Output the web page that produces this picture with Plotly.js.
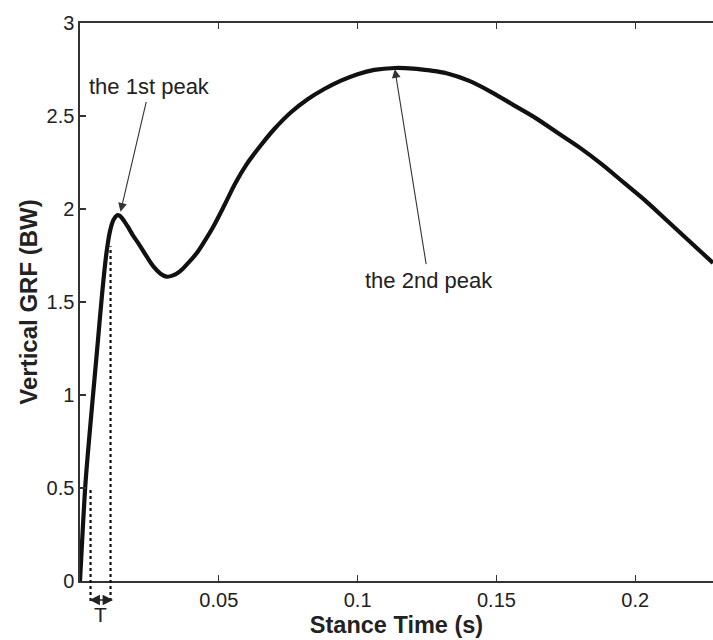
<!DOCTYPE html>
<html>
<head>
<meta charset="utf-8">
<script src="https://cdn.plot.ly/plotly-3.0.1.min.js"></script>
<style>html,body{margin:0;padding:0;background:#fff;}#chart{width:713px;height:640px;}</style>
</head>
<body>
<div id="chart"></div>
<script>
// Stance time (s) and vertical GRF (BW)
const stanceTime = [0, 0.0010, 0.0020, 0.0035, 0.0050, 0.0065, 0.0080, 0.0095, 0.0108, 0.0120, 0.0132, 0.0141, 0.0152, 0.0170, 0.0190, 0.0215, 0.0240, 0.0265, 0.0290, 0.0312, 0.0335, 0.0360, 0.0390, 0.0420, 0.0450, 0.0480, 0.0520, 0.0560, 0.0600, 0.0650, 0.0700, 0.0760, 0.0820, 0.0880, 0.0940, 0.1000, 0.1060, 0.1134, 0.1200, 0.1260, 0.1320, 0.1400, 0.1480, 0.1560, 0.1640, 0.1720, 0.1800, 0.1880, 0.1960, 0.2040, 0.2120, 0.2200, 0.2280];
const verticalGRF = [0, 0.28, 0.53, 0.80, 1.05, 1.30, 1.55, 1.76, 1.88, 1.94, 1.965, 1.965, 1.95, 1.91, 1.86, 1.805, 1.745, 1.69, 1.652, 1.636, 1.643, 1.665, 1.71, 1.762, 1.83, 1.905, 2.02, 2.14, 2.24, 2.34, 2.43, 2.52, 2.59, 2.645, 2.69, 2.725, 2.748, 2.758, 2.755, 2.745, 2.73, 2.69, 2.63, 2.56, 2.49, 2.41, 2.33, 2.24, 2.14, 2.04, 1.93, 1.82, 1.71];

// Dotted markers bounding interval T
const tMarkX = [0.0038, 0.0110];
const tMarkTop = [0.49, 1.80];

// Annotated peaks: tip position and text position
const peakLabels = ["the 1st peak", "the 2nd peak"];
const peakTipX = [0.0146, 0.1134];
const peakTipY = [1.985, 2.752];
const peakTextX = [0.0252, 0.1256];
const peakTextY = [2.661, 1.618];

const xTickVals = [0.05, 0.1, 0.15, 0.2];
const xTickText = ["0.05", "0.1", "0.15", "0.2"];
const yTickVals = [0, 0.5, 1, 1.5, 2, 2.5, 3];
const yTickText = ["0", "0.5", "1", "1.5", "2", "2.5", "3"];

const xRange = [0, 0.228];
const yRange = [0, 3];

const FONT = "Liberation Sans, Arial, Helvetica, sans-serif";

const shapes = tMarkX.map((x, i) => ({
  type: "line", xref: "x", yref: "paper",
  x0: x, x1: x, y0: -0.036, y1: tMarkTop[i] / yRange[1],
  line: {color: "#111", width: 2.2, dash: "dot"}
}));

const annotations = peakLabels.map((txt, i) => ({
  text: txt, x: peakTipX[i], y: peakTipY[i], xref: "x", yref: "y",
  ax: peakTextX[i], ay: peakTextY[i], axref: "x", ayref: "y",
  showarrow: true, arrowhead: 2, arrowsize: 1.6, arrowwidth: 1.1, arrowcolor: "#333",
  standoff: 0, startstandoff: 2,
  font: {family: FONT, size: 22, color: "#222"}
}));
annotations.push({
  text: "", xref: "x", yref: "paper", x: tMarkX[1] + 0.0009, y: -0.034,
  ax: tMarkX[0] - 0.0009, ay: -0.034, axref: "x", ayref: "paper",
  showarrow: true, arrowhead: 2, arrowside: "end+start", arrowsize: 1.3, arrowwidth: 1.6, arrowcolor: "#222"
});
annotations.push({
  text: "T", xref: "x", yref: "paper", x: (tMarkX[0] + tMarkX[1]) / 2, y: -0.084,
  showarrow: false, font: {family: FONT, size: 21, color: "#222"}
});

const trace = {
  x: stanceTime, y: verticalGRF, type: "scatter", mode: "lines",
  line: {color: "#111", width: 4.2, shape: "spline", smoothing: 1},
  hoverinfo: "skip"
};

const layout = {
  width: 713, height: 640,
  margin: {l: 80, r: 0, t: 23, b: 59},
  paper_bgcolor: "#fff", plot_bgcolor: "#fff",
  showlegend: false,
  font: {family: FONT, color: "#222"},
  xaxis: {
    range: xRange, tickvals: xTickVals, ticktext: xTickText,
    ticks: "inside", ticklen: 6, tickcolor: "#333", tickwidth: 1.3,
    showline: true, linecolor: "#333", linewidth: 1.6, mirror: "allticks",
    showgrid: false, zeroline: false,
    tickfont: {family: FONT, size: 20, color: "#222"},
    title: {text: "<b>Stance Time (s)</b>", font: {family: FONT, size: 23.5, color: "#222"}, standoff: 7}
  },
  yaxis: {
    range: yRange, tickvals: yTickVals, ticktext: yTickText,
    ticks: "inside", ticklen: 6, tickcolor: "#333", tickwidth: 1.3,
    showline: true, linecolor: "#333", linewidth: 1.6, mirror: false,
    showgrid: false, zeroline: false,
    tickfont: {family: FONT, size: 20, color: "#222"},
    title: {text: "<b>Vertical GRF (BW)</b>", font: {family: FONT, size: 24, color: "#222"}, standoff: 2}
  },
  shapes: shapes,
  annotations: annotations
};

Plotly.newPlot("chart", [trace], layout, {displayModeBar: false, staticPlot: true});
</script>
</body>
</html>
